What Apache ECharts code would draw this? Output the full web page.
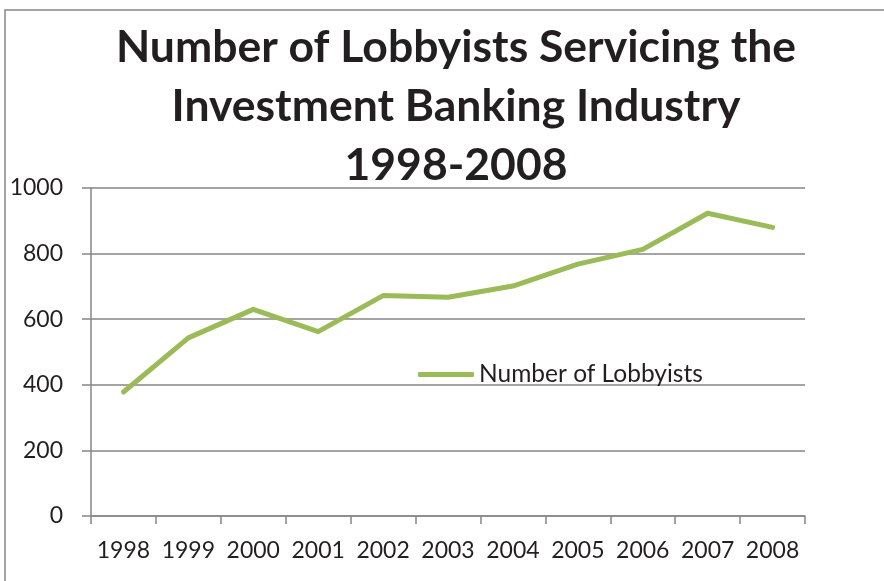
<!DOCTYPE html>
<html>
<head>
<meta charset="utf-8">
<script src="https://cdn.jsdelivr.net/npm/echarts@6/dist/echarts.min.js"></script>
<style>
  html, body { margin: 0; padding: 0; background: #fff; }
  #chart { width: 884px; height: 581px; }
</style>
</head>
<body>
<div id="chart"></div>
<script>
// Lobbyists working for the investment banking industry, by year
const years = ['1998', '1999', '2000', '2001', '2002', '2003', '2004', '2005', '2006', '2007', '2008'];
const lobbyists = [378, 543, 630, 562, 672, 667, 701, 768, 813, 923, 880];
const seriesName = 'Number of Lobbyists';
const titleLines = ['Number of Lobbyists Servicing the', 'Investment Banking Industry', '1998-2008'];

const FONT = 'Lato, "Open Sans", sans-serif';
const GREY = '#868686';
const GREEN = '#9BBB59';
const INK = '#231f20';

const chart = echarts.init(document.getElementById('chart'), null, { renderer: 'canvas' });

chart.setOption({
  backgroundColor: '#ffffff',
  animation: false,
  graphic: [{
    type: 'rect',
    shape: { x: 5, y: 10, width: 1000, height: 1000 },
    style: { fill: 'none', stroke: GREY, lineWidth: 1.5 },
    silent: true,
    z: -1
  }],
  title: {
    text: titleLines.join('\n'),
    left: 456,
    top: 18,
    textAlign: 'center',
    padding: 0,
    textStyle: {
      fontFamily: FONT,
      fontWeight: 'bold',
      fontSize: 44.5,
      lineHeight: 59,
      color: INK
    }
  },
  legend: {
    data: [seriesName],
    left: 418,
    top: 362,
    padding: 0,
    icon: 'roundRect',
    itemWidth: 56,
    itemHeight: 5,
    itemGap: 4,
    itemStyle: { color: GREEN },
    textStyle: { fontFamily: FONT, fontSize: 24.5, color: INK, lineHeight: 16 }
  },
  grid: { left: 91, right: 79, top: 188, bottom: 65, containLabel: false },
  xAxis: {
    type: 'category',
    data: years,
    boundaryGap: true,
    axisLine: { show: true, lineStyle: { color: GREY, width: 1.5 } },
    axisTick: { show: true, interval: 0, length: 8, alignWithLabel: false, lineStyle: { color: GREY, width: 1.5 } },
    axisLabel: { interval: 0, fontFamily: FONT, fontSize: 23, color: INK, margin: 23 },
    splitLine: { show: false }
  },
  yAxis: {
    type: 'value',
    min: 0,
    max: 1000,
    interval: 200,
    axisLine: { show: true, lineStyle: { color: GREY, width: 1.5 } },
    axisTick: { show: true, inside: false, length: 9, lineStyle: { color: GREY, width: 1.5 } },
    axisLabel: { fontFamily: FONT, fontSize: 23, color: INK, margin: 28, formatter: (v) => String(v) },
    splitLine: { show: true, lineStyle: { color: GREY, width: 1.5 } }
  },
  series: [{
    name: seriesName,
    type: 'line',
    data: lobbyists,
    symbol: 'none',
    lineStyle: { color: GREEN, width: 5, cap: 'round', join: 'round' },
    itemStyle: { color: GREEN }
  }]
});
</script>
</body>
</html>
